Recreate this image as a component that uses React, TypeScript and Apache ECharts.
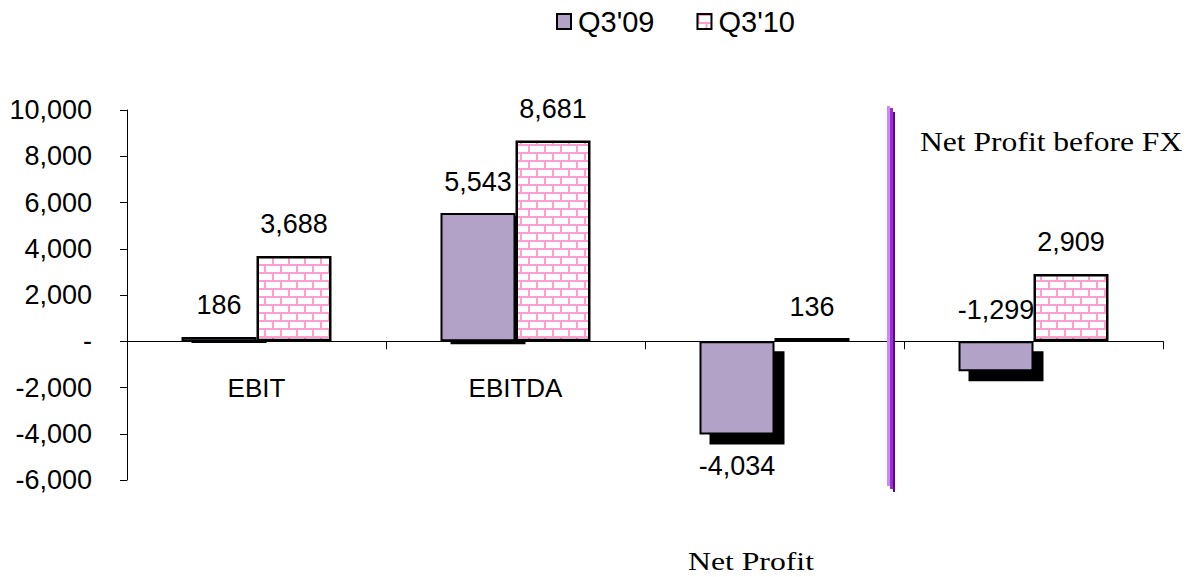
import React, { useEffect, useRef } from "react";
import * as echarts from "echarts";

const categories = ["EBIT", "EBITDA", "Net Profit", "Net Profit before FX"];
const seriesNames = ["Q3'09", "Q3'10"];
const q309 = [186, 5543, -4034, -1299];
const q310 = [3688, 8681, 136, 2909];
const yTicks = { min: -6000, max: 10000, interval: 2000 };

const fmt = (v: number) => (v === 0 ? "-" : v.toLocaleString("en-US"));

function makeBrick(): string {
  const c = document.createElement("canvas");
  c.width = 16;
  c.height = 16;
  const g = c.getContext("2d")!;
  g.fillStyle = "#ffffff";
  g.fillRect(0, 0, 16, 16);
  g.fillStyle = "#ff9fd0";
  g.fillRect(0, 0, 16, 2);
  g.fillRect(0, 8, 16, 2);
  g.fillRect(0, 0, 2, 8);
  g.fillRect(8, 8, 2, 8);
  return c.toDataURL();
}

export default function App() {
  const ref = useRef<HTMLDivElement>(null);
  useEffect(() => {
    if (!ref.current) return;
    const chart = echarts.init(ref.current, undefined, { renderer: "svg" });
    const brick = makeBrick();
    const sans = "'Liberation Sans', Arial, sans-serif";
    const serif = "'Liberation Serif', 'Times New Roman', serif";
    const shadowStyle = (v: number) => ({
      shadowColor: "#000",
      shadowBlur: 0,
      shadowOffsetX: 10,
      shadowOffsetY: v > 0 ? 3 : 10,
    });
    chart.setOption({
      animation: false,
      legend: {
        data: seriesNames,
        left: 551,
        top: 2,
        itemWidth: 14,
        itemHeight: 15,
        itemGap: 42,
        icon: "rect",
        textStyle: { fontFamily: sans, fontSize: 29, color: "#000", padding: [0, 0, 0, 2] },
        itemStyle: { shadowOffsetX: 0, shadowOffsetY: 0, borderWidth: 2, borderColor: "#000" },
      },
      grid: { left: 127, right: 24, top: 110, bottom: 97, containLabel: false },
      xAxis: {
        type: "category",
        data: categories,
        axisLine: { onZero: true, lineStyle: { color: "#000", width: 1 } },
        axisTick: { show: true, length: 8, lineStyle: { color: "#000" } },
        axisLabel: {
          margin: -105,
          fontFamily: sans,
          fontSize: 26,
          color: "#000",
          formatter: (v: string, i: number) => (i < 2 ? v : ""),
        },
        splitLine: { show: false },
      },
      yAxis: {
        type: "value",
        min: yTicks.min,
        max: yTicks.max,
        interval: yTicks.interval,
        axisLine: { show: true, lineStyle: { color: "#000", width: 1 } },
        axisTick: { show: true, length: 7, lineStyle: { color: "#000" } },
        axisLabel: {
          margin: 35,
          fontFamily: sans,
          fontSize: 27,
          color: "#000",
          formatter: (v: number) => fmt(v),
        },
        splitLine: { show: false },
      },
      series: [
        {
          name: seriesNames[0],
          type: "bar",
          barWidth: 75,
          barGap: "0%",
          data: q309.map((v) => ({
            value: v,
            itemStyle: shadowStyle(v),
            label: v === -4034 ? { position: "bottom" } : undefined,
          })),
          itemStyle: {
            color: "#b3a2c7",
            borderColor: "#000",
            borderWidth: 2,
          },
          label: {
            show: true,
            position: "top",
            distance: 18,
            fontFamily: sans,
            fontSize: 27,
            color: "#000",
            formatter: (p: any) => fmt(p.value),
          },
        },
        {
          name: seriesNames[1],
          type: "bar",
          barWidth: 75,
          barGap: "0%",
          data: q310,
          itemStyle: {
            color: { image: brick, repeat: "repeat", imageWidth: 16, imageHeight: 16 },
            borderColor: "#000",
            borderWidth: 2.5,
          },
          label: {
            show: true,
            position: "top",
            distance: 18,
            fontFamily: sans,
            fontSize: 27,
            color: "#000",
            formatter: (p: any) => fmt(p.value),
          },
        },
      ],
      graphic: [
        { type: "line", z: 100, shape: { x1: 888.5, y1: 106, x2: 888.5, y2: 486 }, style: { stroke: "#cc88ff", lineWidth: 3 } },
        { type: "line", z: 100, shape: { x1: 891.5, y1: 108, x2: 891.5, y2: 489 }, style: { stroke: "#9933cc", lineWidth: 3 } },
        { type: "line", z: 100, shape: { x1: 894, y1: 112, x2: 894, y2: 492 }, style: { stroke: "#660099", lineWidth: 2 } },
        {
          type: "text",
          x: 688,
          y: 548,
          scaleX: 1.22,
          style: { text: categories[2], fontFamily: serif, fontSize: 26, fill: "#000" },
        },
        {
          type: "text",
          x: 920,
          y: 128,
          scaleX: 1.17,
          style: { text: categories[3], fontFamily: serif, fontSize: 27, fill: "#000" },
        },
      ],
    });
    return () => chart.dispose();
  }, []);
  return (
    <div
      ref={ref}
      style={{ position: "fixed", left: 0, top: 0, width: 1187, height: 577, background: "#fff" }}
    />
  );
}
